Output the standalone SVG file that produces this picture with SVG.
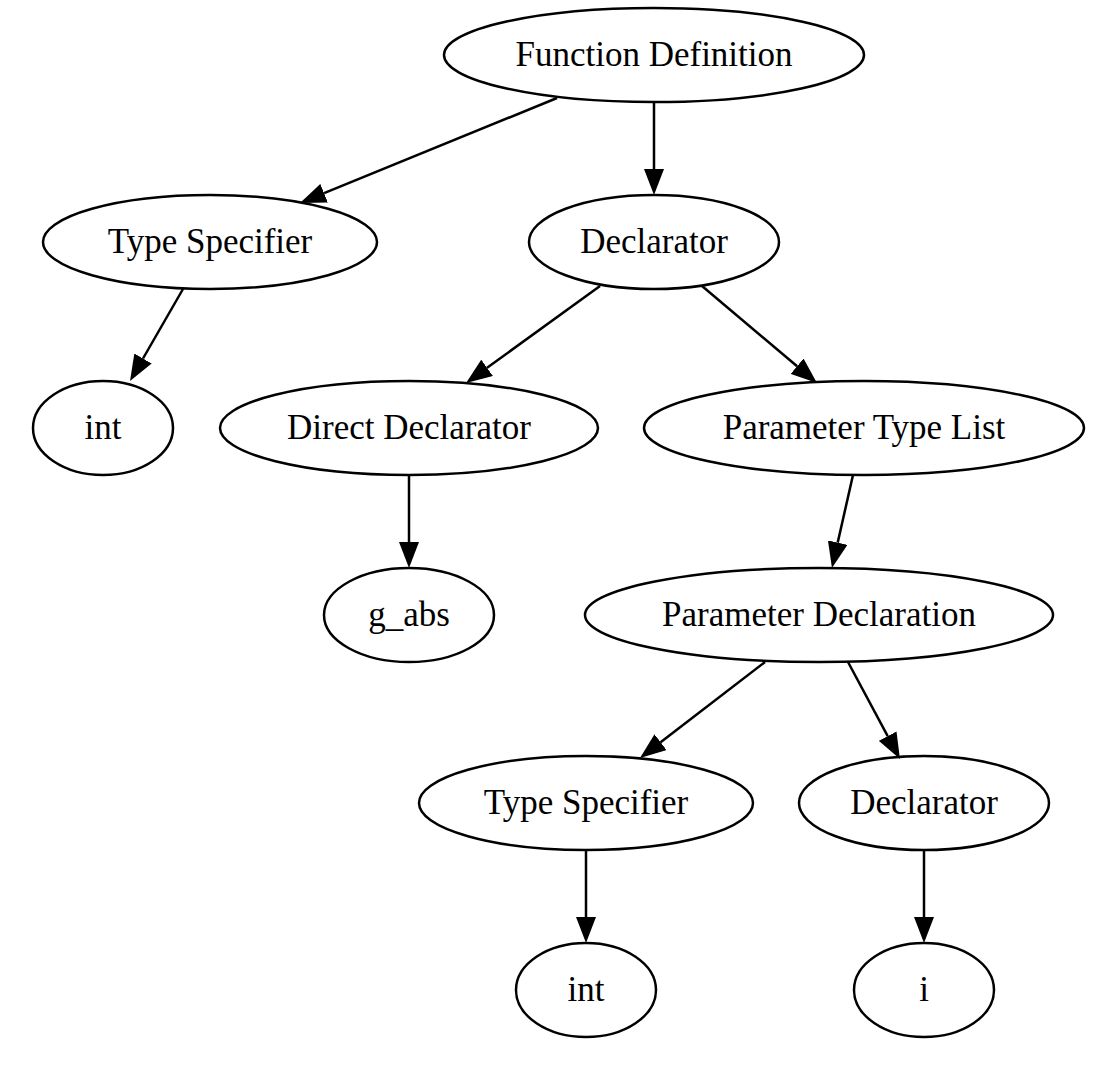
<svg xmlns="http://www.w3.org/2000/svg" width="1100" height="1078" viewBox="0 0 1100 1078">
<style>
.n ellipse{fill:none;stroke:#000;stroke-width:2.5}
.n text{font-family:"Liberation Serif","Times New Roman",serif;font-size:35px;text-anchor:middle;fill:#000}
.e line{stroke:#000;stroke-width:2.5;marker-end:url(#ah)}
</style>
<defs>
<marker id="ah" viewBox="0 -10 26 20" markerWidth="26" markerHeight="20" refX="0" refY="0" orient="auto" markerUnits="userSpaceOnUse">
<path d="M0,-10 L26,0 L0,10 z" fill="#000"/>
</marker>
</defs>
<rect width="1100" height="1078" fill="#fff"/>
<g id="edges" class="e">
<line x1="557" y1="98" x2="324.1" y2="193.2"/>
<line x1="654" y1="102" x2="654" y2="169"/>
<line x1="183" y1="289" x2="143" y2="358.5"/>
<line x1="600" y1="286" x2="487.1" y2="367.8"/>
<line x1="702" y1="286" x2="797.1" y2="366.2"/>
<line x1="409" y1="475" x2="409" y2="542"/>
<line x1="853" y1="475" x2="837.7" y2="542.6"/>
<line x1="765" y1="662" x2="660.6" y2="742.2"/>
<line x1="848" y1="662" x2="887.7" y2="736.1"/>
<line x1="586" y1="850" x2="586" y2="917"/>
<line x1="924" y1="850" x2="924" y2="917"/>
</g>
<g id="n1" class="n"><ellipse cx="654" cy="55" rx="210" ry="47"/><text x="654" y="66">Function Definition</text></g>
<g id="n2" class="n"><ellipse cx="210" cy="242" rx="167" ry="47"/><text x="210" y="253">Type Specifier</text></g>
<g id="n3" class="n"><ellipse cx="654" cy="242" rx="125" ry="47"/><text x="654" y="253">Declarator</text></g>
<g id="n4" class="n"><ellipse cx="103" cy="428" rx="70" ry="47"/><text x="103" y="439">int</text></g>
<g id="n5" class="n"><ellipse cx="409" cy="428" rx="189" ry="47"/><text x="409" y="439">Direct Declarator</text></g>
<g id="n6" class="n"><ellipse cx="864" cy="428" rx="220" ry="47"/><text x="864" y="439">Parameter Type List</text></g>
<g id="n7" class="n"><ellipse cx="409" cy="615" rx="85" ry="47"/><text x="409" y="626">g_abs</text></g>
<g id="n8" class="n"><ellipse cx="819" cy="615" rx="234" ry="47"/><text x="819" y="626">Parameter Declaration</text></g>
<g id="n9" class="n"><ellipse cx="586" cy="803" rx="167" ry="47"/><text x="586" y="814">Type Specifier</text></g>
<g id="n10" class="n"><ellipse cx="924" cy="803" rx="125" ry="47"/><text x="924" y="814">Declarator</text></g>
<g id="n11" class="n"><ellipse cx="586" cy="990" rx="70" ry="47"/><text x="586" y="1001">int</text></g>
<g id="n12" class="n"><ellipse cx="924" cy="990" rx="70" ry="47"/><text x="924" y="1001">i</text></g>
</svg>
